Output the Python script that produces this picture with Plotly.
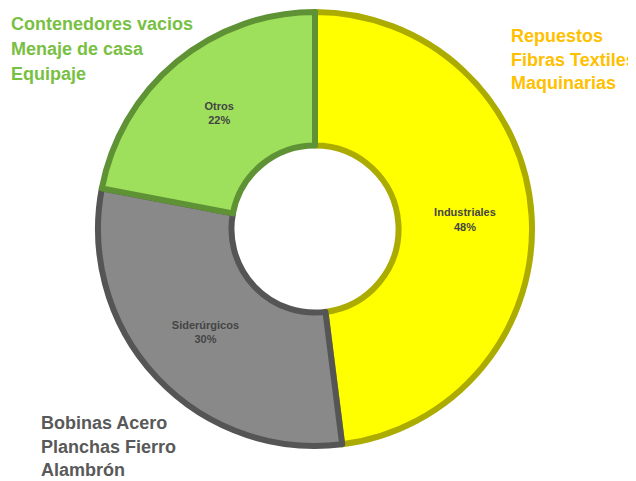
import plotly.graph_objects as go

categories = ["Industriales", "Siderúrgicos", "Otros"]
values = [48, 30, 22]
slice_colors = ["#FFFF00", "#898989", "#9EDF5B"]
edge_colors = ["#ABAB00", "#555555", "#5E9234"]

notes_green = ["Contenedores vacios", "Menaje de casa", "Equipaje"]
notes_orange = ["Repuestos", "Fibras Textiles", "Maquinarias"]
notes_gray = ["Bobinas Acero", "Planchas Fierro", "Alambrón"]

OFF = 8  # page body margin
W, H = 636 - OFF, 481 - OFF
cx, cy, r = 315 - OFF, 229 - OFF, 217

texts = [f"<b>{c}</b><br><b>{v}%</b>" for c, v in zip(categories, values)]

fig = go.Figure()
fig.add_trace(go.Pie(
    labels=categories, values=values, text=texts,
    textinfo="text", textposition="inside", insidetextorientation="horizontal",
    hole=0.385, sort=False, direction="clockwise", rotation=0,
    marker=dict(colors=slice_colors, line=dict(color=edge_colors, width=6)),
    textfont=dict(family="Liberation Sans, Arial", size=11, color="#454545"),
    domain=dict(x=[(cx - r) / W, (cx + r) / W], y=[1 - (cy + r) / H, 1 - (cy - r) / H]),
    showlegend=False, hoverinfo="label+percent",
))

font_family = "Liberation Sans, Arial"
def add_block(lines, x, y0, step, color):
    for i, t in enumerate(lines):
        fig.add_annotation(x=(x - OFF) / W, y=1 - (y0 - OFF + i * step) / H, xref="paper", yref="paper",
                           text=f"<b>{t}</b>", showarrow=False, xanchor="left", yanchor="middle",
                           borderpad=0, font=dict(family=font_family, size=18, color=color))

add_block(notes_green, 10, 24, 25, "#78C043")
add_block(notes_orange, 510, 36, 23.5, "#FFC000")
add_block(notes_gray, 40, 423, 23.5, "#595959")

fig.update_layout(width=W, height=H, margin=dict(l=0, r=0, t=0, b=0),
                  paper_bgcolor="white", plot_bgcolor="white")
fig.write_html("out.html")
